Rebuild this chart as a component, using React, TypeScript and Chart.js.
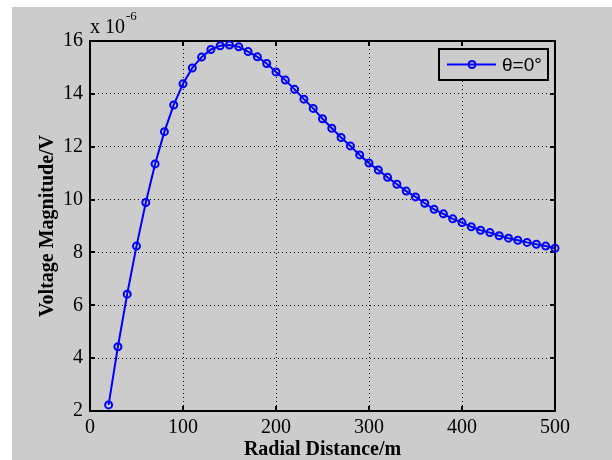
import React, { useEffect, useRef } from "react";
import { Chart, registerables } from "chart.js";

Chart.register(...registerables);

const distances = [
  20, 30, 40, 50, 60, 70, 80, 90, 100, 110, 120, 130, 140, 150, 160, 170, 180,
  190, 200, 210, 220, 230, 240, 250, 260, 270, 280, 290, 300, 310, 320, 330,
  340, 350, 360, 370, 380, 390, 400, 410, 420, 430, 440, 450, 460, 470, 480,
  490, 500,
];
// Voltage magnitude in units of 1e-6 V
const voltage = [
  2.23, 4.43, 6.42, 8.24, 9.89, 11.35, 12.57, 13.58, 14.38, 14.98, 15.39,
  15.68, 15.82, 15.85, 15.78, 15.6, 15.4, 15.15, 14.83, 14.52, 14.17, 13.8,
  13.45, 13.06, 12.7, 12.35, 12.03, 11.69, 11.38, 11.12, 10.84, 10.58, 10.32,
  10.1, 9.86, 9.63, 9.46, 9.27, 9.13, 8.97, 8.84, 8.75, 8.63, 8.54, 8.46,
  8.38, 8.31, 8.24, 8.16,
];
const seriesLabel = "θ=0°";
const xTitle = "Radial Distance/m";
const yTitle = "Voltage Magnitude/V";
const exponentBase = "x 10";
const exponentPower = "-6";
const xRange = [0, 500];
const xStep = 100;
const yRange = [2, 16];
const yStep = 2;

const GRAY = "#cccccc";
const BLUE = "#0000ff";
const SERIF = '"Liberation Serif", "Times New Roman", serif';
const SANS = '"Liberation Sans", Arial, sans-serif';

export default function App() {
  const ref = useRef<HTMLCanvasElement>(null);

  useEffect(() => {
    const canvas = ref.current;
    if (!canvas) return;

    const figurePlugin = {
      id: "figureDecor",
      beforeDraw(chart: any) {
        const { ctx, width, height } = chart;
        ctx.save();
        ctx.fillStyle = "#ffffff";
        ctx.fillRect(0, 0, width, height);
        ctx.fillStyle = GRAY;
        ctx.fillRect(12, 7, width - 12, height - 7);
        ctx.restore();
      },
      beforeDatasetsDraw(chart: any) {
        const { ctx, chartArea: a, scales } = chart;
        ctx.save();
        ctx.strokeStyle = "#000";
        ctx.lineWidth = 2;
        ctx.strokeRect(a.left, a.top, a.right - a.left, a.bottom - a.top);
        ctx.lineWidth = 2;
        ctx.beginPath();
        scales.x.ticks.forEach((t: any) => {
          const px = Math.round(scales.x.getPixelForValue(t.value));
          ctx.moveTo(px, a.bottom);
          ctx.lineTo(px, a.bottom - 5);
          ctx.moveTo(px, a.top);
          ctx.lineTo(px, a.top + 5);
        });
        scales.y.ticks.forEach((t: any) => {
          const py = Math.round(scales.y.getPixelForValue(t.value));
          ctx.moveTo(a.left, py);
          ctx.lineTo(a.left + 5, py);
          ctx.moveTo(a.right, py);
          ctx.lineTo(a.right - 5, py);
        });
        ctx.stroke();

        // exponent label
        ctx.fillStyle = "#000";
        ctx.textAlign = "left";
        ctx.textBaseline = "alphabetic";
        ctx.font = `20px ${SERIF}`;
        ctx.fillText(exponentBase, a.left, a.top - 8);
        const w = ctx.measureText(exponentBase).width;
        ctx.font = `13px ${SERIF}`;
        ctx.fillText(exponentPower, a.left + w + 1, a.top - 21);
        ctx.restore();
      },
      afterDraw(chart: any) {
        const { ctx, chartArea: a } = chart;
        const ds = chart.data.datasets[0];
        const lw = 109;
        const lh = 31;
        const lx = a.right - 7 - lw;
        const ly = a.top + 8;
        ctx.save();
        ctx.fillStyle = GRAY;
        ctx.fillRect(lx, ly, lw, lh);
        ctx.strokeStyle = "#000";
        ctx.lineWidth = 2;
        ctx.strokeRect(lx, ly, lw, lh);
        const cy = ly + lh / 2;
        ctx.strokeStyle = ds.borderColor;
        ctx.lineWidth = 2;
        ctx.beginPath();
        ctx.moveTo(lx + 8, cy);
        ctx.lineTo(lx + 57, cy);
        ctx.stroke();
        ctx.beginPath();
        ctx.arc(lx + 33, cy, 3.5, 0, Math.PI * 2);
        ctx.stroke();
        ctx.fillStyle = "#000";
        ctx.font = `19px ${SANS}`;
        ctx.textAlign = "left";
        ctx.textBaseline = "middle";
        ctx.fillText(ds.label, lx + 63, cy + 1);
        ctx.restore();
      },
    };

    const chart = new Chart(canvas, {
      type: "line",
      data: {
        datasets: [
          {
            label: seriesLabel,
            data: distances.map((d, i) => ({ x: d, y: voltage[i] })),
            borderColor: BLUE,
            backgroundColor: "rgba(0,0,0,0)",
            borderWidth: 2,
            pointRadius: 3.5,
            pointBorderWidth: 2,
            pointBorderColor: BLUE,
            pointBackgroundColor: "rgba(0,0,0,0)",
            tension: 0,
            clip: false as any,
          },
        ],
      },
      options: {
        animation: false,
        responsive: false,
        maintainAspectRatio: false,
        layout: { padding: { left: 0, top: 41, right: 57, bottom: 0 } },
        plugins: {
          legend: { display: false },
          tooltip: { enabled: false },
        },
        scales: {
          x: {
            type: "linear",
            min: xRange[0],
            max: xRange[1],
            afterFit(s: any) {
              s.height = 49;
            },
            ticks: {
              stepSize: xStep,
              color: "#000",
              font: { family: SERIF, size: 20 },
              padding: 5,
              maxRotation: 0,
              autoSkip: false,
            },
            grid: { color: "#000", lineWidth: 1, drawTicks: false },
            border: { display: false, dash: [1, 3] },
            title: {
              display: true,
              text: xTitle,
              color: "#000",
              font: { family: SERIF, size: 20, weight: "bold", lineHeight: 1 },
              padding: { top: 0, bottom: 0 },
            },
          },
          y: {
            type: "linear",
            min: yRange[0],
            max: yRange[1],
            afterFit(s: any) {
              s.width = 90;
            },
            ticks: {
              stepSize: yStep,
              color: "#000",
              font: { family: SERIF, size: 20 },
              padding: 7,
              autoSkip: false,
            },
            grid: { color: "#000", lineWidth: 1, drawTicks: false },
            border: { display: false, dash: [1, 3] },
            title: {
              display: true,
              text: yTitle,
              color: "#000",
              font: { family: SERIF, size: 20, weight: "bold", lineHeight: 1 },
              padding: { top: 38, bottom: 0 },
            },
          },
        },
      },
      plugins: [figurePlugin],
    } as any);

    return () => chart.destroy();
  }, []);

  return (
    <div style={{ position: "fixed", left: 0, top: 0, width: 612, height: 460 }}>
      <canvas ref={ref} width={612} height={460} style={{ display: "block" }} />
    </div>
  );
}
